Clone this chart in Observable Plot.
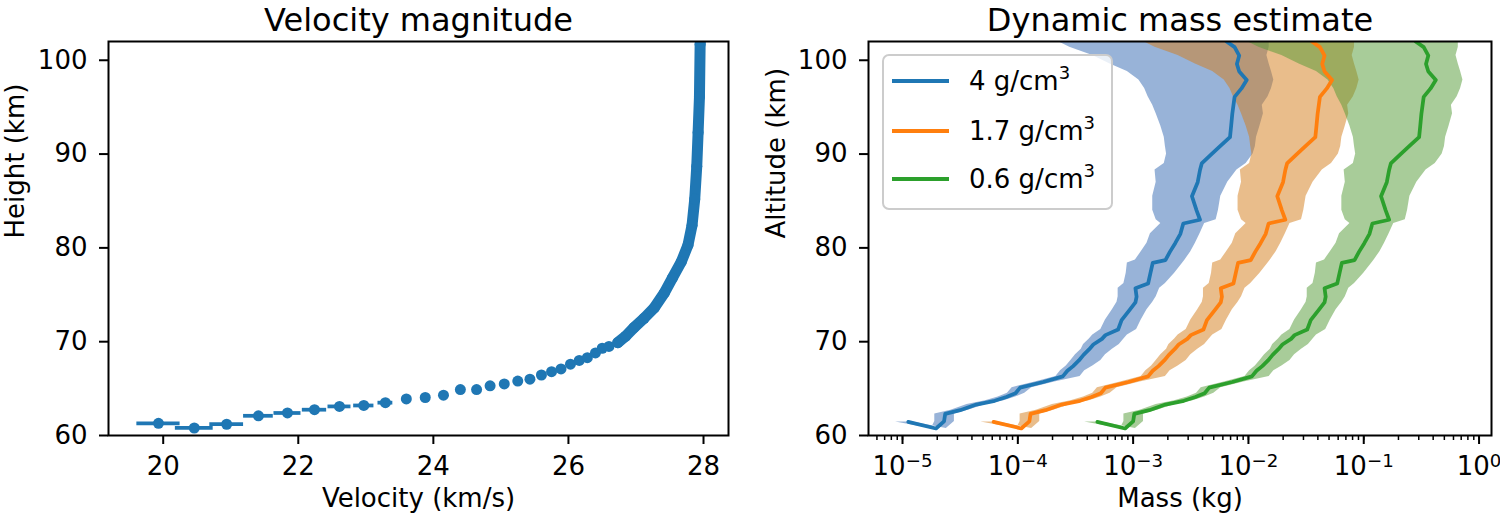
<!DOCTYPE html>
<html>
<head>
<meta charset="utf-8">
<script src="https://cdn.jsdelivr.net/npm/d3@7"></script>
<script src="https://cdn.jsdelivr.net/npm/@observablehq/plot@0.6"></script>
<style>
  body { margin: 0; background: white; font-family: "DejaVu Sans"; }
  #fig { position: relative; width: 1500px; height: 522px; overflow: hidden; }
  #left { position: absolute; left: 0; top: 0; }
  #right { position: absolute; left: 750px; top: 0; }
  #legend {
    position: absolute; left: 882px; top: 54px; width: 227px; height: 152px;
    border: 2px solid #cccccc; border-radius: 7px; background: rgba(255,255,255,0.8);
    font: 26px "DejaVu Sans"; color: black;
  }
  #legend .row { position: absolute; left: 8px; height: 30px; display: flex; align-items: center; white-space: nowrap; }
  #legend .swatch { width: 57px; height: 4px; margin-right: 20px; }
  #legend sup { font-size: 18px; vertical-align: 11px; line-height: 0; }
</style>
</head>
<body>
<div id="fig">
  <div id="left"></div>
  <div id="right"></div>
  <div id="legend"></div>
</div>
<script>
// ---- left panel: velocity vs height ----
const velocity = [19.93, 20.46, 20.94, 21.41, 21.84, 22.24, 22.61, 22.97, 23.29, 23.60, 23.88, 24.15, 24.40, 24.64, 24.84,
  25.05, 25.25, 25.43, 25.60, 25.75, 25.89, 26.03, 26.16, 26.28, 26.40, 26.50, 26.60, 26.73, 26.85, 26.97,
  27.12, 27.27, 27.42, 27.54, 27.67, 27.77, 27.83, 27.87, 27.90, 27.92, 27.94, 27.95, 27.96];
const heightKm = [61.3, 60.8, 61.2, 62.1, 62.4, 62.75, 63.1, 63.2, 63.5, 63.9, 64.05, 64.3, 64.9, 64.9, 65.3,
  65.5, 65.8, 66.0, 66.45, 66.8, 67.1, 67.6, 68.0, 68.3, 68.8, 69.3, 69.5, 69.9, 70.6, 71.5,
  72.5, 73.6, 75.2, 76.8, 78.5, 80.3, 82.4, 85.2, 88.7, 92.3, 96.1, 101.7, 102.6];
// horizontal error on the first (slow) points
const velocityErr = [0.32, 0.28, 0.25, 0.22, 0.20, 0.18, 0.17, 0.15, 0.11];

const velTicks = [20, 22, 24, 26, 28];
const kmTicks = [60, 70, 80, 90, 100];

// ---- right panel: log10 of mass (kg) per altitude, for 3 densities ----
const altitude = [61.45, 60.75, 61.5, 62.3, 62.7, 63.3, 63.7, 64.1, 64.5, 65.1,
  65.7, 66.3, 66.9, 67.4, 68.0, 68.6, 69.2, 69.7, 70.3, 70.7,
  71.3, 72.3, 73.4, 74.2, 74.8, 75.7, 76.2, 77.3, 78.4, 78.7,
  79.6, 80.5, 81.5, 82.6, 83.0, 84.0, 85.5, 87.0, 88.3, 89.0,
  90.0, 90.8, 91.8, 93.0, 94.3, 95.2, 96.1, 97.0, 97.9, 98.8,
  99.6, 100.5, 101.4, 102.0];

const med4 = [-4.95,-4.71,-4.64,-4.63,-4.50,-4.36,-4.20,-4.10,-4.02,-3.98,
  -3.78,-3.61,-3.57,-3.52,-3.47,-3.43,-3.38,-3.345,-3.27,-3.24,
  -3.13,-3.10,-3.03,-2.98,-2.97,-2.98,-2.87,-2.85,-2.83,-2.72,
  -2.68,-2.635,-2.59,-2.565,-2.42,-2.45,-2.49,-2.44,-2.42,-2.405,
  -2.32,-2.25,-2.16,-2.15,-2.14,-2.13,-2.12,-2.06,-2.015,-2.08,
  -2.10,-2.08,-2.12,-2.19];
const lo4 = [-5.06,-4.75,-4.72,-4.72,-4.58,-4.44,-4.28,-4.17,-4.09,-4.05,
  -3.85,-3.67,-3.63,-3.58,-3.54,-3.50,-3.45,-3.43,-3.38,-3.35,
  -3.28,-3.24,-3.18,-3.14,-3.13,-3.13,-3.08,-3.06,-3.05,-2.98,
  -2.93,-2.88,-2.85,-2.76,-2.80,-2.83,-2.83,-2.80,-2.81,-2.73,
  -2.71,-2.72,-2.73,-2.76,-2.80,-2.83,-2.87,-2.90,-2.95,-3.05,
  -3.20,-3.35,-3.55,-3.65];
const hi4 = [-4.91,-4.62,-4.55,-4.55,-4.43,-4.28,-4.12,-4.02,-3.94,-3.88,
  -3.68,-3.46,-3.42,-3.35,-3.28,-3.24,-3.18,-3.12,-3.08,-3.05,
  -2.97,-2.93,-2.88,-2.83,-2.80,-2.77,-2.72,-2.64,-2.57,-2.55,
  -2.50,-2.46,-2.42,-2.38,-2.28,-2.26,-2.24,-2.18,-2.10,-2.02,
  -1.96,-1.94,-1.93,-1.90,-1.87,-1.88,-1.83,-1.80,-1.78,-1.80,
  -1.82,-1.84,-1.82,-1.82];

const med17 = [-4.21,-3.97,-3.90,-3.89,-3.76,-3.62,-3.46,-3.36,-3.28,-3.24,
  -3.04,-2.87,-2.83,-2.78,-2.73,-2.69,-2.64,-2.605,-2.53,-2.50,
  -2.39,-2.36,-2.29,-2.24,-2.23,-2.24,-2.13,-2.11,-2.09,-1.98,
  -1.94,-1.895,-1.85,-1.825,-1.68,-1.71,-1.75,-1.70,-1.68,-1.665,
  -1.58,-1.51,-1.42,-1.41,-1.40,-1.39,-1.38,-1.32,-1.275,-1.34,
  -1.36,-1.34,-1.38,-1.45];
const lo17 = [-4.32,-4.01,-3.98,-3.98,-3.84,-3.70,-3.54,-3.43,-3.35,-3.31,
  -3.11,-2.93,-2.89,-2.84,-2.80,-2.76,-2.71,-2.69,-2.64,-2.61,
  -2.54,-2.50,-2.44,-2.40,-2.39,-2.39,-2.34,-2.32,-2.31,-2.24,
  -2.19,-2.14,-2.11,-2.02,-2.06,-2.09,-2.09,-2.06,-2.07,-1.99,
  -1.97,-1.98,-1.99,-2.02,-2.06,-2.09,-2.13,-2.16,-2.21,-2.31,
  -2.46,-2.61,-2.81,-2.91];
const hi17 = [-4.17,-3.88,-3.81,-3.81,-3.69,-3.54,-3.38,-3.28,-3.20,-3.14,
  -2.94,-2.72,-2.68,-2.61,-2.54,-2.50,-2.44,-2.38,-2.34,-2.31,
  -2.23,-2.19,-2.14,-2.09,-2.06,-2.03,-1.98,-1.90,-1.83,-1.81,
  -1.76,-1.72,-1.68,-1.64,-1.54,-1.52,-1.50,-1.44,-1.36,-1.28,
  -1.22,-1.20,-1.19,-1.16,-1.13,-1.14,-1.09,-1.06,-1.04,-1.06,
  -1.08,-1.10,-1.08,-1.08];

const med06 = [-3.31,-3.07,-3.00,-2.99,-2.86,-2.72,-2.56,-2.46,-2.38,-2.34,
  -2.14,-1.97,-1.93,-1.88,-1.83,-1.79,-1.74,-1.705,-1.63,-1.60,
  -1.49,-1.46,-1.39,-1.34,-1.33,-1.34,-1.23,-1.21,-1.19,-1.08,
  -1.04,-0.995,-0.95,-0.925,-0.78,-0.81,-0.85,-0.80,-0.78,-0.765,
  -0.68,-0.61,-0.52,-0.51,-0.50,-0.49,-0.48,-0.42,-0.375,-0.44,
  -0.46,-0.44,-0.48,-0.55];
const lo06 = [-3.42,-3.11,-3.08,-3.08,-2.94,-2.80,-2.64,-2.53,-2.45,-2.41,
  -2.21,-2.03,-1.99,-1.94,-1.90,-1.86,-1.81,-1.79,-1.74,-1.71,
  -1.64,-1.60,-1.54,-1.50,-1.49,-1.49,-1.44,-1.42,-1.41,-1.34,
  -1.29,-1.24,-1.21,-1.12,-1.16,-1.19,-1.19,-1.16,-1.17,-1.09,
  -1.07,-1.08,-1.09,-1.12,-1.16,-1.19,-1.23,-1.26,-1.31,-1.41,
  -1.56,-1.71,-1.91,-2.01];
const hi06 = [-3.27,-2.98,-2.91,-2.91,-2.79,-2.64,-2.48,-2.38,-2.30,-2.24,
  -2.04,-1.82,-1.78,-1.71,-1.64,-1.60,-1.54,-1.48,-1.44,-1.41,
  -1.33,-1.29,-1.24,-1.19,-1.16,-1.13,-1.08,-1.00,-0.93,-0.91,
  -0.86,-0.82,-0.78,-0.74,-0.64,-0.62,-0.60,-0.54,-0.46,-0.38,
  -0.32,-0.30,-0.29,-0.26,-0.23,-0.24,-0.19,-0.16,-0.14,-0.16,
  -0.18,-0.20,-0.18,-0.18];

const densityValues = ["4", "1.7", "0.6"];
const massTicks = [1e-5, 1e-4, 1e-3, 1e-2, 1e-1, 1];
const massTickExps = ["−5", "−4", "−3", "−2", "−1", "0"];

const lineColors = ["#1f77b4", "#ff7f0e", "#2ca02c"];
const bandColors = ["#3167b1", "#d37b17", "#519933"];
const font = "DejaVu Sans";

// ---------- left chart ----------
const velRows = velocity.map((v, i) => ({v, h: heightKm[i], e: velocityErr[i] || 0}));
const denseRows = velRows.slice(27);

const axisStyle = {tickSize: 9, tickPadding: 12, strokeWidth: 2, label: null};

const left = Plot.plot({
  width: 750, height: 522,
  marginLeft: 108, marginRight: 22, marginTop: 41, marginBottom: 87,
  style: {fontFamily: font, fontSize: "26px", color: "black", background: "white", overflow: "visible"},
  x: {domain: [19.19, 28.37]},
  y: {domain: [60, 102]},
  marks: [
    Plot.ruleY(velRows.filter(d => d.e > 0), {y: "h", x1: d => d.v - d.e, x2: d => d.v + d.e, stroke: lineColors[0], strokeWidth: 3.75}),
    Plot.line(denseRows, {x: "v", y: "h", stroke: lineColors[0], strokeWidth: 11, strokeLinecap: "round", clip: true}),
    Plot.dot(velRows, {x: "v", y: "h", r: 5.5, fill: lineColors[0], clip: true}),
    Plot.axisX({ticks: velTicks, ...axisStyle}),
    Plot.axisY({ticks: kmTicks, ...axisStyle}),
    Plot.frame({stroke: "black", strokeWidth: 2}),
    Plot.text(["Velocity magnitude"], {text: d => d, frameAnchor: "top", dy: -33, fontSize: 32}),
    Plot.text(["Velocity (km/s)"], {text: d => d, frameAnchor: "bottom", dy: 71, fontSize: 26}),
    Plot.text(["Height (km)"], {text: d => d, frameAnchor: "left", dx: -93, rotate: -90, fontSize: 26})
  ]
});
document.getElementById("left").append(left);

// ---------- right chart ----------
const meds = [med4, med17, med06];
const los = [lo4, lo17, lo06];
const his = [hi4, hi17, hi06];
const massSeries = densityValues.map((name, k) => altitude.map((h, i) => ({
  name, h,
  m: 10 ** meds[k][i],
  lo: 10 ** los[k][i],
  hi: 10 ** his[k][i]
})));

const tickIndex = d => massTicks.findIndex(t => Math.abs(t - d) < t * 1e-6);

const right = Plot.plot({
  width: 750, height: 522,
  marginLeft: 118, marginRight: 9, marginTop: 41, marginBottom: 87,
  style: {fontFamily: font, fontSize: "26px", color: "black", background: "white", overflow: "visible"},
  x: {type: "log", domain: [5.07e-6, 1.282]},
  y: {domain: [60, 102]},
  marks: [
    ...massSeries.map((rows, k) => Plot.areaX(rows, {y: "h", x1: "lo", x2: "hi", fill: bandColors[k], fillOpacity: 0.5, clip: true})),
    ...massSeries.map((rows, k) => Plot.line(rows, {x: "m", y: "h", stroke: lineColors[k], strokeWidth: 3.75, clip: true})),
    Plot.axisX({ticks: 40, tickFormat: () => "", tickSize: 5, strokeWidth: 1.5, label: null}),
    Plot.axisX({ticks: massTicks, tickFormat: d => "10^" + massTickExps[tickIndex(d)], ...axisStyle}),
    Plot.axisY({ticks: kmTicks, ...axisStyle}),
    Plot.frame({stroke: "black", strokeWidth: 2}),
    Plot.text(["Dynamic mass estimate"], {text: d => d, frameAnchor: "top", dy: -33, fontSize: 32}),
    Plot.text(["Mass (kg)"], {text: d => d, frameAnchor: "bottom", dy: 71, fontSize: 26}),
    Plot.text(["Altitude (km)"], {text: d => d, frameAnchor: "left", dx: -92, rotate: -90, fontSize: 26})
  ]
});
document.getElementById("right").append(right);

// turn "10^-5" tick labels into 10 with a raised exponent
d3.select(right).selectAll("text").each(function () {
  const t = d3.select(this);
  const s = t.text();
  if (!s.startsWith("10^")) return;
  t.text("10");
  t.append("tspan").attr("dy", "-0.45em").attr("font-size", "0.7em").text(s.slice(3));
});

// legend box (drawn over the chart like matplotlib's)
const legend = d3.select("#legend");
const rowTops = [10, 60, 108];
densityValues.forEach((v, k) => {
  const row = legend.append("div").attr("class", "row").style("top", rowTops[k] + "px");
  row.append("div").attr("class", "swatch").style("background", lineColors[k]);
  const label = row.append("span");
  label.append("span").text(v + " g/cm");
  label.append("sup").text("3");
});
</script>
</body>
</html>
